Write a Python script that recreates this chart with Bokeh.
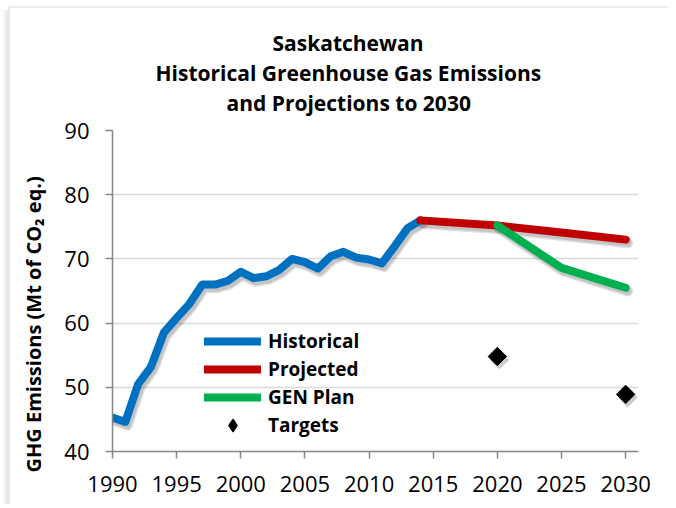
from bokeh.plotting import figure
from bokeh.models import Range1d, Legend, LegendItem, FixedTicker, Title
from bokeh.embed import file_html
from bokeh.resources import INLINE
import math

hist_years = list(range(1990, 2015))
hist_vals = [45.3, 44.6, 50.5, 53.2, 58.5, 60.8, 63.0, 66.0, 66.0, 66.6, 68.0, 67.0, 67.3, 68.3, 70.0,
             69.5, 68.5, 70.4, 71.1, 70.2, 69.9, 69.3, 72.0, 74.8, 76.0]
proj_years = [2014, 2020, 2025, 2030]
proj_vals = [76.0, 75.2, 74.1, 73.0]
gen_years = [2020, 2025, 2030]
gen_vals = [75.2, 68.6, 65.5]
target_years = [2020, 2030]
target_vals = [54.8, 48.9]
x_ticks = [1990, 1995, 2000, 2005, 2010, 2015, 2020, 2025, 2030]
y_ticks = [40, 50, 60, 70, 80, 90]
title_lines = ["Saskatchewan", "Historical Greenhouse Gas Emissions", "and Projections to 2030"]
y_label = "GHG Emissions (Mt of CO\u2082 eq.)"

FONT = "Open Sans"

p = figure(width=668, height=504, output_backend="svg", toolbar_location=None,
           x_range=Range1d(1990, 2031), y_range=Range1d(40, 90),
           min_border_left=112, min_border_right=30, min_border_top=130, min_border_bottom=53)

# faint chart-area frame (top and left edges with a soft shadow), drawn as page background
p.border_fill_alpha = 0
p.styles = {
    "background": ("linear-gradient(#ececec,#ececec) 9px 6px / 100% 2px no-repeat, "
                   "linear-gradient(#e6e6e6,#e6e6e6) 8px 6px / 2px 100% no-repeat, "
                   "linear-gradient(to right, rgba(0,0,0,0), rgba(0,0,0,0.10)) 2px 10px / 6px 100% no-repeat, "
                   "white")
}

# shadow ranges (offset a few pixels right/down)
p.extra_x_ranges = {"sh": Range1d(1990 - 0.16, 2031 - 0.16)}
p.extra_y_ranges = {"sh": Range1d(40 + 0.5, 90 + 0.5)}

p.outline_line_color = None
p.background_fill_color = "white"

p.xgrid.grid_line_color = None
p.ygrid.grid_line_color = "#d9d9d9"
p.ygrid.grid_line_width = 1.5

for ax in (p.xaxis[0], p.yaxis[0]):
    ax.axis_line_color = "#868686"
    ax.axis_line_width = 1.5
    ax.major_tick_line_color = "#868686"
    ax.major_tick_line_width = 1.5
    ax.major_tick_in = 0
    ax.major_tick_out = 7
    ax.minor_tick_line_color = None
    ax.major_label_text_font = FONT
    ax.major_label_text_font_size = "22px"
    ax.major_label_text_color = "black"
p.xaxis.ticker = FixedTicker(ticks=x_ticks)
p.yaxis.ticker = FixedTicker(ticks=y_ticks)
p.xaxis.major_label_standoff = 17
p.yaxis.major_label_standoff = 16

# y-axis title as a left-side Title so it can sit a little lower than centre
p.add_layout(Title(text=y_label, align="left", offset=-21, standoff=30, text_font=FONT,
                   text_font_style="bold", text_font_size="20px", text_color="black"), "left")

# chart title: a small spacer, then the three lines (bottom to top)
p.add_layout(Title(text=" ", text_font_size="11px", standoff=0), "above")
for txt, off in zip(reversed(title_lines), [114, 43, 160]):
    p.add_layout(Title(text=txt, align="left", offset=off, standoff=0, text_font=FONT,
                       text_font_style="bold", text_font_size="21px", text_color="black"), "above")

# shadows
for xs, ys in ((hist_years, hist_vals), (proj_years, proj_vals), (gen_years, gen_vals)):
    p.line(xs, ys, line_color="black", line_alpha=0.12, line_width=11, line_cap="round", line_join="round",
           x_range_name="sh", y_range_name="sh")
    p.line(xs, ys, line_color="black", line_alpha=0.12, line_width=8, line_cap="round", line_join="round",
           x_range_name="sh", y_range_name="sh")
p.scatter(target_years, target_vals, marker="square", size=14, angle=math.pi / 4,
          fill_color="black", fill_alpha=0.2, line_color=None, x_range_name="sh", y_range_name="sh")

r_hist = p.line(hist_years, hist_vals, line_color="#0070C0", line_width=8, line_cap="round", line_join="round")
r_proj = p.line(proj_years, proj_vals, line_color="#C00000", line_width=8, line_cap="round", line_join="round")
r_gen = p.line(gen_years, gen_vals, line_color="#00B050", line_width=8, line_cap="round", line_join="round")
# diamond (used by the legend), hidden under the rotated square
r_tgt_leg = p.scatter(target_years, target_vals, marker="diamond", size=15, line_width=2,
                      line_join="round", fill_color="black", line_color="black")
p.scatter(target_years, target_vals, marker="square", size=13, angle=math.pi / 4,
          fill_color="black", line_color="black")

legend = Legend(items=[LegendItem(label="Historical", renderers=[r_hist]),
                       LegendItem(label="Projected", renderers=[r_proj]),
                       LegendItem(label="GEN Plan", renderers=[r_gen]),
                       LegendItem(label="Targets", renderers=[r_tgt_leg])],
                location=(92, 12), background_fill_alpha=0, border_line_color=None,
                label_text_font=FONT, label_text_font_style="bold", label_text_font_size="19px",
                label_text_color="black", glyph_width=57, glyph_height=28, label_height=28,
                spacing=0, label_standoff=7, padding=0, margin=0)
p.add_layout(legend, "center")

open("out.html", "w").write(file_html(p, INLINE))
